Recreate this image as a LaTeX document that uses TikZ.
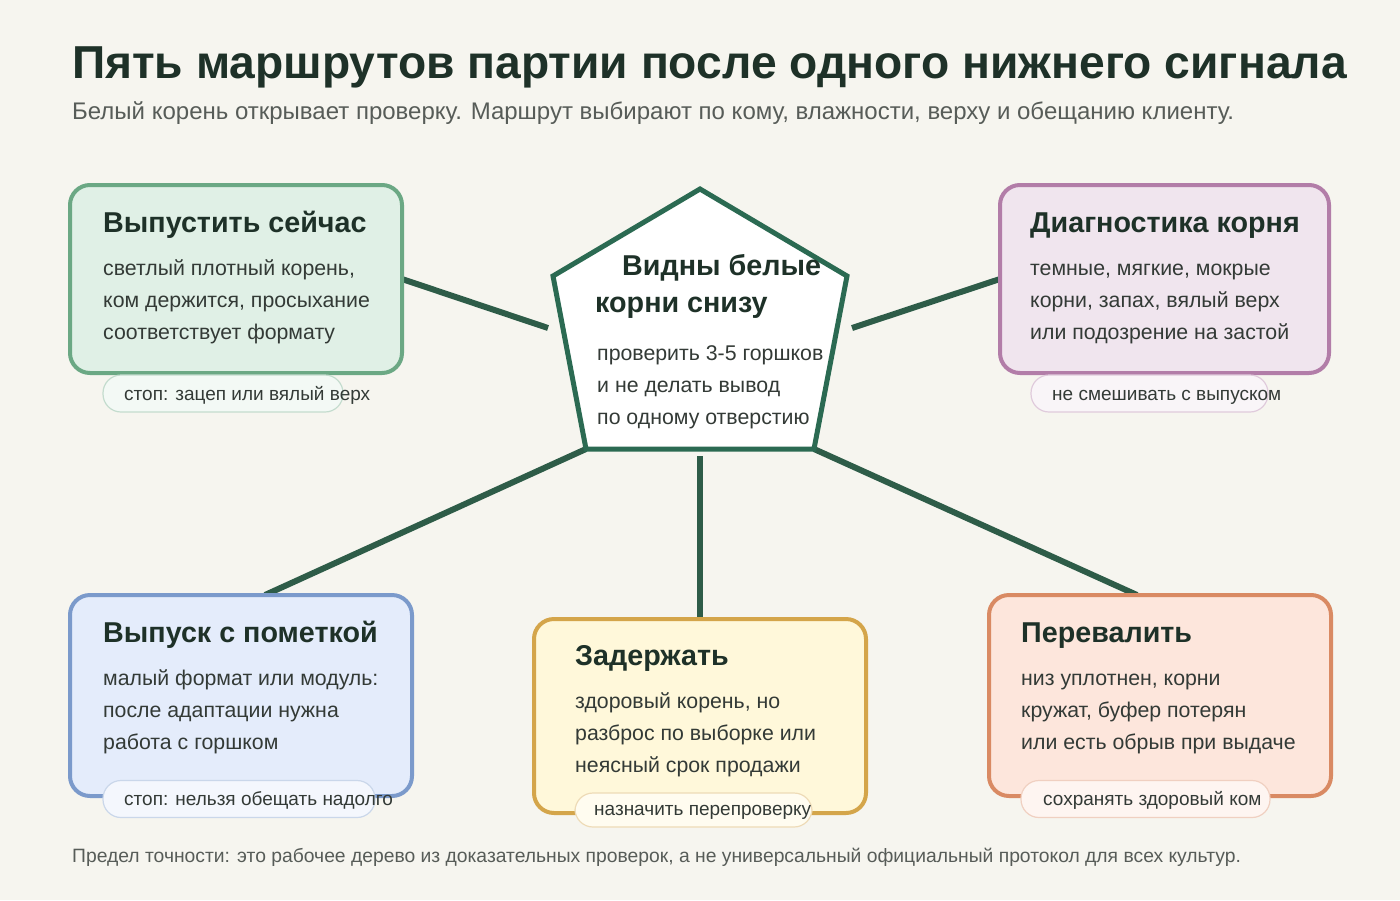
\documentclass[tikz,border=0pt]{standalone}
\usepackage{fontspec}
\setmainfont{Liberation Sans}
\usepackage{xcolor}
\usetikzlibrary{positioning,calc,backgrounds}
\definecolor{pagebg}{HTML}{F6F5EF}
\definecolor{inkdark}{HTML}{1E3128}
\definecolor{inkbody}{HTML}{333A36}
\definecolor{inkgrey}{HTML}{575C58}
\definecolor{hubgreen}{HTML}{2B6A52}
\definecolor{linkgreen}{HTML}{2E5C48}
\definecolor{nowfill}{HTML}{E0F0E6}
\definecolor{nowline}{HTML}{6BA884}
\definecolor{diagfill}{HTML}{F0E5EE}
\definecolor{diagline}{HTML}{B27DA8}
\definecolor{markfill}{HTML}{E4ECFB}
\definecolor{markline}{HTML}{7B9ACB}
\definecolor{holdfill}{HTML}{FFF8DA}
\definecolor{holdline}{HTML}{D4A54A}
\definecolor{potfill}{HTML}{FDE6DC}
\definecolor{potline}{HTML}{D98A63}

\begin{document}
\begin{tikzpicture}[x=1pt, y=-1pt,
    card/.style={draw, line width=4pt, rounded corners=20pt, inner sep=0pt, outer sep=0pt, anchor=north west},
    pill/.style={draw, line width=1.2pt, rounded corners=18pt, inner sep=0pt, minimum height=37pt},
    head/.style={anchor=base west, inner sep=0pt, text=inkdark, font=\bfseries\fontsize{28.7}{32}\selectfont},
    body/.style={anchor=base west, inner sep=0pt, align=left, text=inkbody, font=\fontsize{21.3}{32}\selectfont},
    tag/.style={anchor=base west, inner sep=0pt, text=inkbody, font=\fontsize{19}{22}\selectfont},
    link/.style={draw=linkgreen, line width=6pt}]
    \useasboundingbox (0,0) rectangle (1400,900);
    \begin{scope}[on background layer]
        \fill[pagebg] (0,0) rectangle (1400,900);
    \end{scope}

    % title
    \node [anchor=base west, inner sep=0pt, text=inkdark, font=\bfseries\fontsize{46.2}{52}\selectfont] (title) at (72,78) {Пять маршрутов партии после одного нижнего сигнала};
    \node [anchor=base west, inner sep=0pt, text=inkgrey, font=\fontsize{24}{28}\selectfont] (subtitle) at (72,119) {Белый корень открывает проверку. Маршрут выбирают по кому, влажности, верху и обещанию клиенту.};

    % hub (body nodes sit on their last line)
    \coordinate (hT) at (700,189);
    \coordinate (hR) at (847,276);
    \coordinate (hBR) at (814,449);
    \coordinate (hBL) at (586,449);
    \coordinate (hL) at (553,276);
    \draw [hubgreen, line width=5pt, fill=white, line join=miter] (hT) -- (hR) -- (hBR) -- (hBL) -- (hL) -- cycle;
    \node [head] (hubhead) at (622,275) {Видны белые};
    \node [head] (hubhead2) at (595,312) {корни снизу};
    \node [body] (hubbody) at (597,424) {проверить 3-5 горшков\\и не делать вывод\\по одному отверстию};

    % route cards
    \node [card, draw=nowline, fill=nowfill, minimum width=332pt, minimum height=188pt] (now) at (70,185) {};
    \node [head] at (103,232) {Выпустить сейчас};
    \node [body] at (103,339) {светлый плотный корень,\\ком держится, просыхание\\соответствует формату};
    \node [pill, draw=nowline!40, fill=nowfill!40, minimum width=240pt] (nowtag) at (223,393.5) {};
    \node [tag] at (124,400) {стоп: зацеп или вялый верх};

    \node [card, draw=diagline, fill=diagfill, minimum width=329pt, minimum height=188pt] (diag) at (1000,185) {};
    \node [head] at (1030,232) {Диагностика корня};
    \node [body] at (1030,339) {темные, мягкие, мокрые\\корни, запах, вялый верх\\или подозрение на застой};
    \node [pill, draw=diagline!40, fill=diagfill!40, minimum width=237pt] (diagtag) at (1149.5,393.5) {};
    \node [tag] at (1052,400) {не смешивать с выпуском};

    \node [card, draw=markline, fill=markfill, minimum width=342pt, minimum height=201pt] (mark) at (70,595) {};
    \node [head] at (103,642) {Выпуск с пометкой};
    \node [body] at (103,749) {малый формат или модуль:\\после адаптации нужна\\работа с горшком};
    \node [pill, draw=markline!40, fill=markfill!40, minimum width=272pt] (marktag) at (239,799) {};
    \node [tag] at (124,805) {стоп: нельзя обещать надолго};

    \node [card, draw=holdline, fill=holdfill, minimum width=332pt, minimum height=194pt] (hold) at (534,619) {};
    \node [head] at (575,665) {Задержать};
    \node [body] at (575,772) {здоровый корень, но\\разброс по выборке или\\неясный срок продажи};
    \node [pill, draw=holdline!40, fill=holdfill!40, minimum width=237pt, minimum height=34pt] (holdtag) at (693.5,810) {};
    \node [tag] at (594,815) {назначить перепроверку};

    \node [card, draw=potline, fill=potfill, minimum width=342pt, minimum height=201pt] (pot) at (989,595) {};
    \node [head] at (1021,642) {Перевалить};
    \node [body] at (1021,749) {низ уплотнен, корни\\кружат, буфер потерян\\или есть обрыв при выдаче};
    \node [pill, draw=potline!40, fill=potfill!40, minimum width=249pt] (pottag) at (1145.5,799) {};
    \node [tag] at (1043,805) {сохранять здоровый ком};

    % connectors
    \coordinate (hubL) at (548,328);
    \coordinate (hubR) at (852,328);
    \coordinate (hubB) at (700,456);
    \begin{scope}[on background layer]
        \draw [link] (now.east) -- (hubL);
        \draw [link] (hubR) -- (diag.west);
        \draw [link] (hBL) -- ($(mark.north west)+(195,0)$);
        \draw [link] (hubB) -- (hold.north);
        \draw [link] (hBR) -- ($(pot.north west)+(148,0)$);
    \end{scope}

    % footnote
    \node [anchor=base west, inner sep=0pt, text=inkgrey, font=\fontsize{19.3}{23}\selectfont] (note) at (72,862) {Предел точности: это рабочее дерево из доказательных проверок, а не универсальный официальный протокол для всех культур.};
\end{tikzpicture}
\end{document}
